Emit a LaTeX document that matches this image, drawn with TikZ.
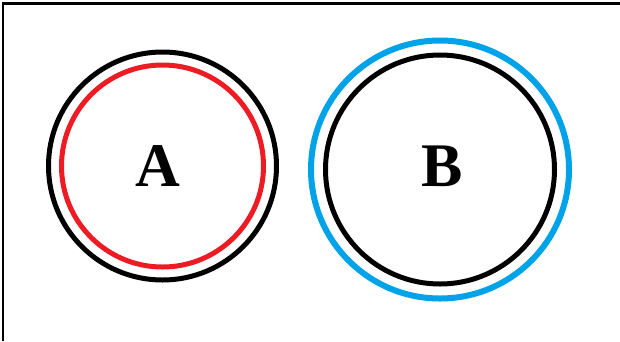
\documentclass[tikz,border=0pt]{standalone}
\usepackage{fontspec}
\setmainfont{Liberation Serif}
\usepackage{xcolor}
\usepackage{tikz}
\usetikzlibrary{
  positioning
}
\definecolor{PaintRed}{HTML}{ED1C24}
\definecolor{PaintBlue}{HTML}{00A2E8}
\definecolor{PaintBlack}{HTML}{000000}

\tikzset{
  ring/.style={circle,draw=PaintBlack,line width=5pt,inner sep=0pt},
  letter/.style={inner sep=0pt,font=\bfseries\fontsize{62}{62}\selectfont}
}

\begin{document}
\begin{tikzpicture}[x=1pt,y=-1pt]
        \useasboundingbox (0,0) rectangle (620,341);
        % frame
        \draw[line width=2.5pt] (3,341) -- (3,3.5) -- (620,3.5);
        % circle A
        \node[ring,minimum size=228pt] (ringA) at (162.5,166) {};
        \node[ring,draw=PaintRed,line width=5pt,minimum size=202pt] (innerA) at (ringA.center) {};
        \node[letter] (labelA) at (157.5,166.5) {A};
        % circle B
        \node[ring,draw=PaintBlue,line width=6pt,minimum size=258pt] (outerB) at (440,169.5) {};
        \node[ring,minimum size=229pt] (ringB) at (outerB.center) {};
        \node[letter] (labelB) at (442,166) {B};
      \end{tikzpicture}
\end{document}
